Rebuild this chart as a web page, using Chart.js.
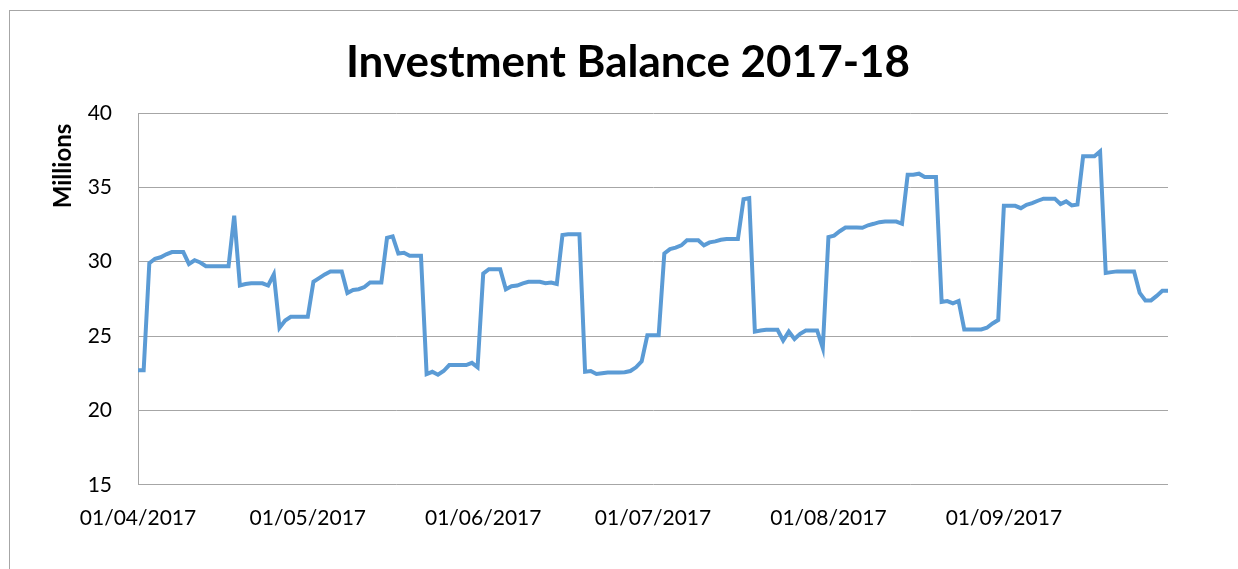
<!DOCTYPE html>
<html>
<head>
<meta charset="utf-8">
<title>Investment Balance 2017-18</title>
<script src="https://cdn.jsdelivr.net/npm/chart.js@4.4.0/dist/chart.umd.min.js"></script>
<style>
  html, body { margin: 0; padding: 0; background: #fff; overflow: hidden; }
  #wrap { position: relative; width: 1238px; height: 569px; overflow: hidden; }
  #frame { position: absolute; left: 9px; top: 10px; width: 1400px; height: 700px; border: 1px solid #a6a6a6; pointer-events: none; }
</style>
</head>
<body>
<div id="wrap">
  <canvas id="GraficoInversion" width="1238" height="569"></canvas>
  <div id="frame"></div>
</div>
<script>
// saldo diario (millones), un array por mes
var year = 2017;
var monthNumbers = [4, 5, 6, 7, 8, 9];

var april = [22.7, 22.7, 29.9, 30.2, 30.3, 30.5, 30.65, 30.65, 30.65, 29.85,
  30.1, 29.95, 29.7, 29.7, 29.7, 29.7, 29.7, 33.1, 28.4, 28.5,
  28.55, 28.55, 28.55, 28.4, 29.15, 25.55, 26.05, 26.3, 26.3, 26.3];
var may = [26.3, 28.65, 28.9, 29.15, 29.35, 29.35, 29.35, 27.9, 28.1, 28.15,
  28.3, 28.6, 28.6, 28.6, 31.6, 31.7, 30.55, 30.6, 30.4, 30.4,
  30.4, 22.45, 22.6, 22.4, 22.65, 23.05, 23.05, 23.05, 23.05, 23.2, 22.9];
var june = [29.2, 29.5, 29.5, 29.5, 28.15, 28.35, 28.4, 28.55, 28.65, 28.65,
  28.65, 28.55, 28.6, 28.5, 31.8, 31.85, 31.85, 31.85, 22.6, 22.65,
  22.45, 22.5, 22.55, 22.55, 22.55, 22.57, 22.65, 22.9, 23.3, 25.05];
var july = [25.05, 25.05, 30.55, 30.85, 30.95, 31.1, 31.45, 31.45, 31.45, 31.1,
  31.3, 31.37, 31.48, 31.52, 31.52, 31.52, 34.2, 34.28, 25.3, 25.38,
  25.42, 25.42, 25.42, 24.7, 25.3, 24.8, 25.15, 25.38, 25.38, 25.38, 24.2];
var august = [31.66, 31.75, 32.05, 32.3, 32.3, 32.3, 32.28, 32.45, 32.55, 32.66,
  32.7, 32.7, 32.7, 32.55, 35.85, 35.85, 35.92, 35.7, 35.7, 35.7,
  27.3, 27.35, 27.2, 27.36, 25.45, 25.45, 25.45, 25.45, 25.56, 25.85, 26.08];
var september = [33.76, 33.76, 33.76, 33.6, 33.83, 33.94, 34.1, 34.24, 34.24, 34.24,
  33.88, 34.06, 33.79, 33.85, 37.09, 37.09, 37.09, 37.42, 29.24, 29.3,
  29.35, 29.35, 29.35, 29.35, 27.9, 27.4, 27.4, 27.7, 28.05, 28.05];

var yTicks = [15, 20, 25, 30, 35, 40];

function pad2(n) { return (n < 10 ? '0' : '') + n; }

var months = [april, may, june, july, august, september];
var labels = [];
var balance = [];
months.forEach(function (arr, m) {
  arr.forEach(function (v, d) {
    labels.push(pad2(d + 1) + '/' + pad2(monthNumbers[m]) + '/' + year);
    balance.push(v);
  });
});

var gridColor = '#a6a6a6';

// etiqueta "Millions" arriba del eje
var millionsLabel = {
  id: 'millionsLabel',
  afterDraw: function (chart) {
    var ctx = chart.ctx;
    ctx.save();
    ctx.translate(63, 166);
    ctx.rotate(-Math.PI / 2);
    ctx.font = 'bold 24px Lato';
    ctx.fillStyle = '#000';
    ctx.textAlign = 'center';
    ctx.textBaseline = 'middle';
    ctx.fillText('Millions', 0, 0);
    ctx.restore();
  }
};

var ctx1 = document.getElementById('GraficoInversion').getContext('2d');
var data1 = {
  labels: labels,
  datasets: [{
    label: 'Investment Balance',
    data: balance,
    borderColor: '#5b9bd5',
    backgroundColor: '#5b9bd5',
    borderWidth: 4,
    pointRadius: 0,
    tension: 0,
    fill: false
  }]
};
var options1 = {
  responsive: false,
  animation: false,
  layout: { padding: { top: 20, right: 70, bottom: 17, left: 88 } },
  plugins: {
    legend: { display: false },
    tooltip: { enabled: false },
    title: {
      display: true,
      text: 'Investment Balance 2017-18',
      color: '#000',
      font: { family: 'Lato', size: 44, weight: 'bold' },
      padding: { top: 16.6, bottom: 23.6 }
    }
  },
  scales: {
    x: {
      type: 'category',
      offset: false,
      grid: { display: false, drawTicks: false },
      border: { display: false },
      ticks: {
        autoSkip: false,
        maxRotation: 0,
        minRotation: 0,
        padding: 21,
        color: '#000',
        font: { family: 'Lato', size: 21 },
        callback: function (value) {
          var l = this.getLabelForValue(value);
          return l.indexOf('01/') === 0 ? l : null;
        }
      }
    },
    y: {
      min: 15,
      max: 40,
      afterFit: function (scale) { scale.width = 50; },
      afterBuildTicks: function (scale) {
        scale.ticks = yTicks.map(function (v) { return { value: v }; });
      },
      grid: { color: gridColor, lineWidth: 1, drawTicks: false },
      border: { display: true, color: gridColor, width: 1 },
      ticks: {
        padding: 26,
        color: '#000',
        font: { family: 'Lato', size: 21 }
      }
    }
  }
};
var GraficoInversion = new Chart(ctx1, {
  type: 'line',
  data: data1,
  options: options1,
  plugins: [millionsLabel]
});
</script>
</body>
</html>
